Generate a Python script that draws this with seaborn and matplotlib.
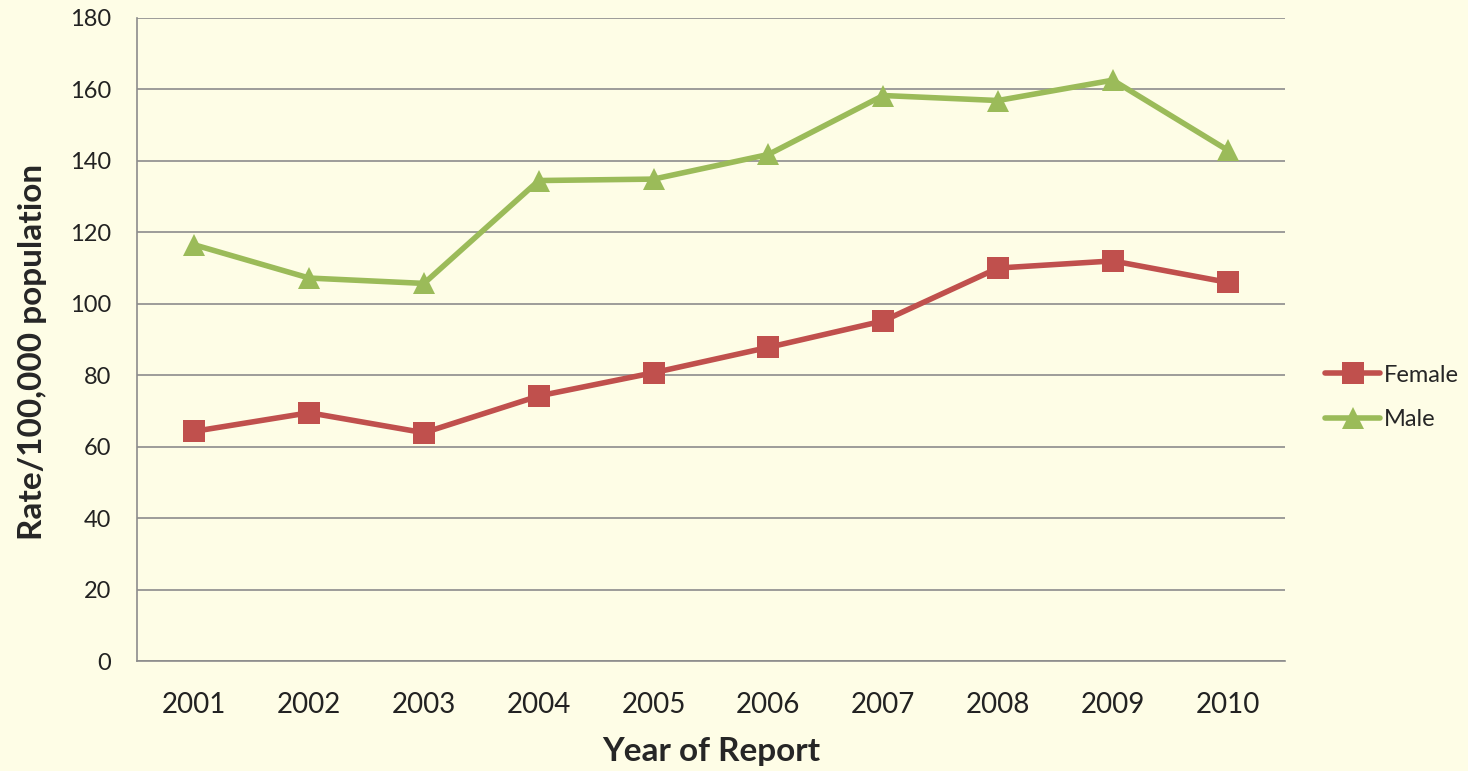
import matplotlib
matplotlib.use("Agg")
import matplotlib.pyplot as plt
import seaborn as sns
import pandas as pd

years = ["2001", "2002", "2003", "2004", "2005", "2006", "2007", "2008", "2009", "2010"]
female = [64.3, 69.5, 63.9, 74.2, 80.7, 87.8, 95.2, 110.0, 112.0, 106.0]
male = [116.5, 107.2, 105.7, 134.5, 134.9, 141.8, 158.3, 156.9, 162.6, 143.0]
series = ["Female", "Male"]
yticks = [0, 20, 40, 60, 80, 100, 120, 140, 160, 180]

bg = "#FEFDE6"
colors = {"Female": "#C0504D", "Male": "#9BBB59"}
markers = {"Female": "s", "Male": "^"}

df = pd.DataFrame({
    "Year": years * 2,
    "Rate": female + male,
    "Sex": ["Female"] * len(years) + ["Male"] * len(years),
})

sns.set_style("white")
plt.rcParams["font.family"] = ["Lato", "DejaVu Sans"]

fig = plt.figure(figsize=(14.68, 7.71), dpi=100, facecolor=bg)
ax = fig.add_axes([137 / 1468, 1 - 661 / 771, (1285 - 137) / 1468, (661 - 18) / 771])
ax.set_facecolor(bg)

sns.lineplot(data=df, x="Year", y="Rate", hue="Sex", style="Sex",
             palette=colors, markers=markers, dashes=False,
             linewidth=4, markersize=16.5, markeredgewidth=0, ax=ax, sort=False)

ax.set_xlim(-0.5, len(years) - 0.5)
ax.set_ylim(0, 180)
ax.set_yticks(yticks)
ax.set_yticklabels([str(v) for v in yticks], fontsize=17, color="#222222")
ax.yaxis.grid(True, color="#8C8C8C", linewidth=1.2)
ax.set_axisbelow(True)

ax.set_xticks(range(len(years)))
ax.set_xticklabels(years, fontsize=20, color="#222222")
ax.set_xticks([i - 0.5 for i in range(len(years) + 1)], minor=True)
ax.tick_params(axis="x", which="major", length=0, pad=22)
ax.tick_params(axis="x", which="minor", length=7, width=1.2, color="#8C8C8C", direction="out")
ax.tick_params(axis="y", length=6.5, width=1.2, color="#8C8C8C", direction="out", pad=12)

for s in ["top", "right"]:
    ax.spines[s].set_visible(False)
for s in ["left", "bottom"]:
    ax.spines[s].set_color("#8C8C8C")
    ax.spines[s].set_linewidth(1.2)

ax.set_xlabel("Year of Report", fontsize=24, fontweight="bold", labelpad=14)
ax.set_ylabel("Rate/100,000 population", fontsize=24, fontweight="bold")
ax.yaxis.set_label_coords(-0.0784, 0.48)

handles, labels = ax.get_legend_handles_labels()
ax.legend(handles, labels, loc="center left", bbox_to_anchor=(1.035, 0.41),
          frameon=False, fontsize=17, handlelength=2.33, handletextpad=0.17,
          labelspacing=1.0, borderaxespad=0, borderpad=0)

fig.savefig("out.png", dpi=100, facecolor=bg)
